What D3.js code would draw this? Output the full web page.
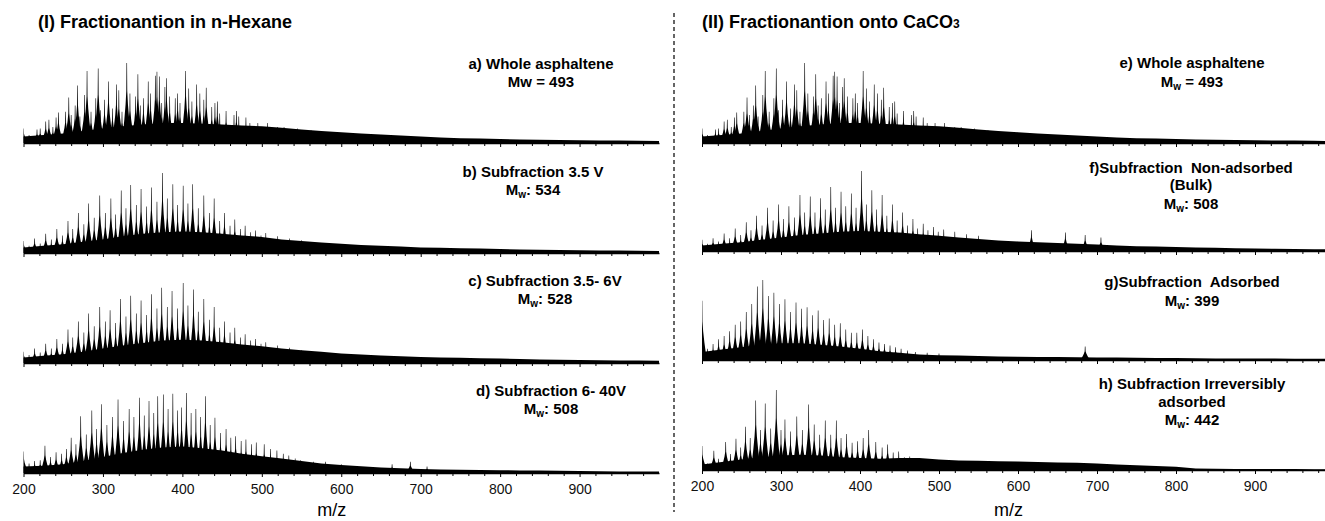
<!DOCTYPE html>
<html>
<head>
<meta charset="utf-8">
<script src="https://cdn.jsdelivr.net/npm/d3@7"></script>
<style>
  body { margin: 0; background: #fff; }
  text { font-family: Arial, "Liberation Sans", sans-serif; white-space: pre; }
</style>
</head>
<body>
<div id="chart"></div>
<script>
const width = 1325, height = 521;

// m/z positions of the fill envelope samples (every 25 m/z)
const envMz = [200,225,250,275,300,325,350,375,400,425,450,475,500,525,550,575,600,
               625,650,675,700,725,750,775,800,825,850,875,900,925,950,975,1000];

// spikes: [m/z, relative intensity %], env: fill level % at envMz
const wholeSpikes = [
  [200,18],[207,10],[217,17],[221,18],[228,27],[232,29],[237,20],[241,32],[244,38],[253,39],
  [257,57],[260,35],[265,47],[268,72],[271,33],[277,60],[280,90],[285,39],[291,56],[294,93],
  [297,41],[302,54],[307,77],[312,43],[317,73],[320,66],[324,39],[330,100],[334,62],[341,58],
  [344,86],[347,47],[351,56],[357,77],[360,62],[366,84],[368,89],[371,83],[374,50],[378,70],
  [380,81],[384,58],[391,56],[394,62],[397,50],[404,90],[408,68],[412,52],[418,73],[422,62],
  [427,54],[430,69],[437,45],[441,50],[444,52],[447,37],[455,40],[465,35],[468,40],[471,33],
  [480,32],[485,25],[495,25],[507,25],[520,20],[528,20],[545,18],[562,16]
];
const wholeEnv = [8,10,12,15,18,21,23,25,25,24,23,22,21,19,17,15,13.5,12,10.5,9.5,8,7,6,5.5,5,4.5,4,3.8,3.5,3.2,3,2.8,2.5];

const sub35Spikes = [
  [200,15],[207,9],[214,18],[221,12],[228,24],[235,17],[242,30],[249,22],[256,40],[262,30],
  [269,50],[276,36],[282,62],[289,44],[296,72],[303,50],[310,68],[316,48],[323,78],[329,56],
  [335,85],[342,60],[348,80],[355,58],[361,82],[368,64],[375,100],[381,68],[388,86],[394,60],
  [401,84],[407,62],[413,86],[420,56],[427,72],[434,50],[440,68],[447,40],[453,50],[460,34],
  [466,42],[473,30],[479,34],[486,26],[492,28],[499,22],[505,25],[520,21],[535,18],[550,16]
];
const sub35Env = [7,9,11,14,17,21,24,26,27,26,24,22,20,17,15,13,11.5,10,9,8,7,6.5,6,5.5,5,4.5,4,3.8,3.5,3.2,3,2.8,2.5];

const sub356Spikes = [
  [200,14],[207,10],[214,18],[221,13],[228,24],[235,18],[242,30],[249,24],[256,42],[262,32],
  [269,52],[276,38],[282,62],[289,46],[296,70],[303,52],[309,66],[316,50],[322,80],[329,58],
  [335,84],[342,62],[348,78],[355,60],[361,86],[368,68],[374,94],[381,70],[387,90],[394,68],
  [401,100],[407,72],[414,92],[420,64],[427,80],[434,54],[440,70],[447,44],[453,52],[460,38],
  [466,44],[473,32],[479,36],[486,28],[492,30],[499,24],[505,26],[520,22],[535,19],[550,16]
];
const sub356Env = [7,9,11,14,18,22,25,28,29,28,26,23,21,18,16,14,12,10.5,9.5,8.5,7.5,7,6.5,6,5.5,5,4.5,4,3.8,3.5,3.2,3,2.8];

const sub640Spikes = [
  [200,27],[207,12],[214,15],[221,16],[227,34],[234,20],[241,26],[248,24],[254,30],[260,44],
  [266,36],[272,71],[279,48],[286,78],[292,55],[298,86],[305,60],[312,70],[319,92],[326,65],
  [333,80],[339,70],[346,94],[352,72],[358,90],[364,75],[369,96],[376,98],[382,80],[388,99],
  [394,78],[399,82],[405,100],[411,75],[417,80],[423,70],[429,96],[435,60],[441,69],[448,50],
  [455,55],[461,44],[467,46],[474,40],[480,42],[487,36],[493,38],[503,36],[511,30],[519,28],
  [527,24],[534,22],[542,18],[549,16],[565,14],[580,14],[600,11],[617,8],[664,11],[687,14],[708,8]
];
const sub640Env = [8,9,11,15,20,25,29,32,33,31,28,24,21,18,15,12,10,8.5,7,6,5,4.5,4,3.8,3.5,3.2,3,2.8,2.5,2.3,2,2,2];

const nonAdsSpikes = [
  [200,14],[207,9],[214,16],[221,12],[228,22],[235,16],[242,28],[249,20],[256,36],[262,26],
  [269,44],[276,32],[283,54],[290,38],[297,58],[303,40],[310,56],[317,42],[324,70],[330,48],
  [337,68],[343,48],[350,66],[356,52],[363,80],[369,54],[376,74],[382,56],[389,72],[395,54],
  [402,100],[408,58],[415,76],[421,52],[428,70],[434,44],[441,58],[447,38],[454,48],[460,32],
  [467,40],[473,28],[480,34],[486,26],[493,30],[499,24],[506,27],[520,24],[535,21],[550,19],
  [617,26],[660,23],[685,20],[705,17]
];
const nonAdsEnv = [7,9,11,14,17,20,22,24,25,24,23,21,19,17,15,13,12,11,10,9,8,7,6,5.5,5,4.5,4,3.5,3,2.8,2.5,2.2,2];

const adsSpikes = [
  [200,74],[207,14],[214,20],[221,26],[228,30],[235,36],[242,44],[249,48],[256,60],[263,70],
  [270,92],[277,100],[284,80],[291,84],[298,70],[305,76],[312,60],[319,72],[326,64],[333,66],
  [340,56],[347,62],[354,50],[361,52],[368,44],[375,46],[382,38],[389,34],[396,34],[403,38],
  [410,30],[417,26],[424,22],[431,20],[438,18],[445,16],[452,14],[460,12],[470,10],[485,9],
  [500,8],[685,17]
];
const adsEnv = [10,13,16,19,21,21,19,17,14,11,9,7,6,5.5,5,4.5,4,3.8,3.6,3.4,3.2,3,2.8,2.6,2.4,2.2,2,2,1.8,1.8,1.6,1.6,1.5];

const irrSpikes = [
  [200,30],[207,8],[215,24],[221,14],[230,35],[236,20],[243,39],[249,28],[255,54],[261,40],
  [268,87],[274,50],[280,83],[287,52],[294,100],[300,50],[305,63],[312,48],[320,67],[327,50],
  [335,82],[342,57],[349,44],[356,62],[363,44],[370,62],[376,40],[383,45],[390,34],[397,36],
  [404,40],[411,50],[420,35],[428,28],[435,32],[442,22],[449,23],[456,16],[463,17],[470,13],
  [480,12]
];
const irrEnv = [7,10,13,16,18,19,18,16,15,14,15,15,13,12,11.5,11,10.5,10,9.5,9,8,7,6,5,4,2,1.5,1.3,1.2,1.2,1.1,1,1];

// panel titles, tick labels, axis title
const titles = ["(I) Fractionantion in n-Hexane", "(II) Fractionantion onto CaCO"];
const tickLabels = [200, 300, 400, 500, 600, 700, 800, 900];
const axisTitle = "m/z";

const panels = [
  { x0: 23.5, x1: 659, titleX: 38,
    spectra: [
      { base: 143, spikes: wholeSpikes, env: wholeEnv, cx: 541, lines: [["a) Whole asphaltene", 69], ["Mw = 493", 87]] },
      { base: 253, spikes: sub35Spikes, env: sub35Env, cx: 533, lines: [["b) Subfraction 3.5 V", 177], ["M_w: 534", 195]] },
      { base: 363, spikes: sub356Spikes, env: sub356Env, cx: 545, lines: [["c) Subfraction 3.5- 6V", 286], ["M_w: 528", 304]] },
      { base: 473, spikes: sub640Spikes, env: sub640Env, cx: 551, lines: [["d) Subfraction 6- 40V", 396], ["M_w: 508", 414]] }
    ] },
  { x0: 702, x1: 1334, titleX: 702,
    spectra: [
      { base: 143, spikes: wholeSpikes, env: wholeEnv, cx: 1192, lines: [["e) Whole asphaltene", 68], ["M_w = 493", 87]] },
      { base: 251, spikes: nonAdsSpikes, env: nonAdsEnv, cx: 1191, lines: [["f)Subfraction  Non-adsorbed", 173], ["(Bulk)", 190], ["M_w: 508", 209]] },
      { base: 360, spikes: adsSpikes, env: adsEnv, cx: 1192, lines: [["g)Subfraction  Adsorbed", 287], ["M_w: 399", 306]] },
      { base: 470, spikes: irrSpikes, env: irrEnv, cx: 1192, lines: [["h) Subfraction Irreversibly", 389], ["adsorbed", 407], ["M_w: 442", 425]] }
    ] }
];

const svg = d3.select("#chart")
  .append("svg")
  .attr("width", width)
  .attr("height", height);

// shape of a single peak cluster: [m/z offset, fraction of height]
const peakShape = [[-6, 0], [-3, 0.3], [-1.5, 0.48], [-0.6, 0.65], [-0.35, 1], [0.35, 1],
                   [0.6, 0.65], [1.5, 0.48], [3, 0.3], [6, 0]];

panels.forEach((p, pi) => {
  const x = d3.scaleLinear().domain([200, 1000]).range([p.x0, p.x1]);
  const g = svg.append("g");

  const title = g.append("text")
    .attr("x", p.titleX)
    .attr("y", 28)
    .style("font-size", "18px")
    .style("font-weight", "bold")
    .text(titles[pi]);
  if (pi === 1) title.append("tspan").style("font-size", "12px").text("3");

  p.spectra.forEach((s, si) => {
    const y = d3.scaleLinear().domain([0, 100]).range([s.base, s.base - 80]);
    const bottom = si === p.spectra.length - 1;

    const area = d3.area()
      .x((d, i) => x(envMz[i]))
      .y0(s.base)
      .y1(d => y(d));
    g.append("path")
      .datum(s.env)
      .attr("d", area)
      .attr("fill", "#000");

    const line = d3.line().x(d => d[0]).y(d => d[1]);
    g.append("g")
      .selectAll("path")
      .data(s.spikes)
      .enter()
      .append("path")
      .attr("d", d => line(peakShape.map(k => [x(Math.max(200, d[0] + k[0])), y(d[1] * k[1])])) + "Z")
      .attr("fill", "#000");

    const axis = d3.axisBottom(x)
      .tickValues(d3.range(200, 1000, 20))
      .tickSize(3)
      .tickSizeOuter(0)
      .tickFormat(d => (bottom && tickLabels.includes(d)) ? d : "");
    const ax = g.append("g")
      .attr("transform", `translate(0,${s.base})`)
      .call(axis);
    ax.select(".domain").attr("stroke", "#000").attr("stroke-width", 1.6);
    ax.selectAll(".tick line").attr("stroke", "#000").attr("stroke-width", 1)
      .attr("y2", d => d % 100 === 0 ? 4 : 3);
    ax.selectAll(".tick text")
      .attr("y", 21).attr("dy", null)
      .style("font-size", "14px")
      .style("font-family", "Arial, 'Liberation Sans', sans-serif")
      .attr("fill", "#111");

    s.lines.forEach(([txt, ly]) => {
      const t = g.append("text")
        .attr("x", s.cx)
        .attr("y", ly)
        .attr("text-anchor", "middle")
        .style("font-size", "15px")
        .style("font-weight", "bold");
      if (txt.startsWith("M_w")) {
        t.append("tspan").text("M");
        t.append("tspan").attr("dy", 3).style("font-size", "10px").text("w");
        t.append("tspan").attr("dy", -3).text(txt.slice(3));
      } else {
        t.text(txt);
      }
    });
  });

  g.append("text")
    .attr("x", x(588))
    .attr("y", 516)
    .attr("text-anchor", "middle")
    .style("font-size", "18px")
    .text(axisTitle);
});

svg.append("line")
  .attr("x1", 674).attr("x2", 674)
  .attr("y1", 13).attr("y2", 512)
  .attr("stroke", "#333")
  .attr("stroke-width", 1.5)
  .attr("stroke-dasharray", "4,3");
</script>
</body>
</html>
